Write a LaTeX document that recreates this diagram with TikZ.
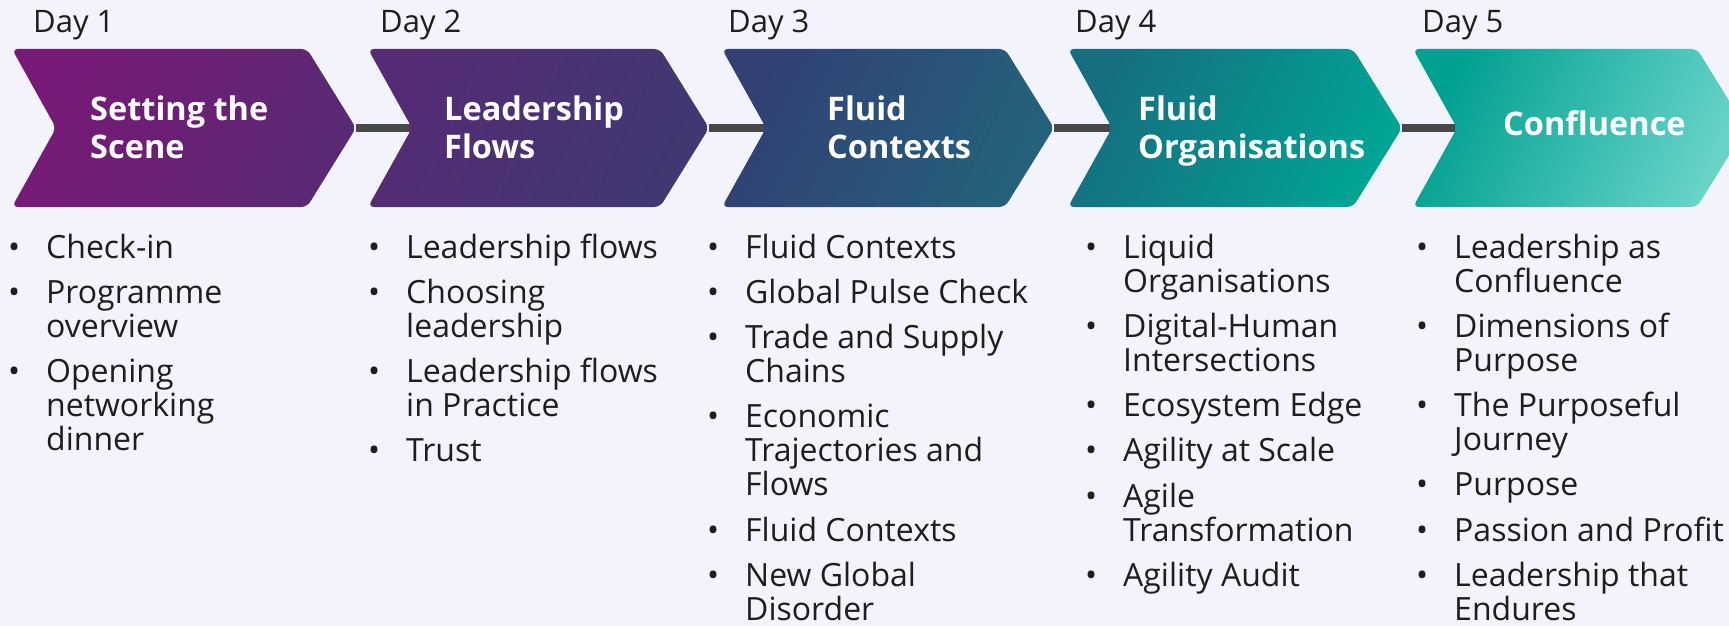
\documentclass[tikz,border=0pt]{standalone}
\usepackage{fontspec}
\setmainfont{Open Sans}
\definecolor{bg}{RGB}{242,243,251}
\definecolor{ink}{RGB}{30,30,30}
\definecolor{conncol}{RGB}{72,72,72}
\definecolor{cAa}{RGB}{120,25,118}
\definecolor{cAb}{RGB}{90,41,115}
\definecolor{cBa}{RGB}{84,44,116}
\definecolor{cBb}{RGB}{64,56,112}
\definecolor{cCa}{RGB}{50,64,115}
\definecolor{cCb}{RGB}{36,98,123}
\definecolor{cDa}{RGB}{22,110,128}
\definecolor{cDb}{RGB}{0,164,149}
\definecolor{cEa}{RGB}{0,160,146}
\definecolor{cEb}{RGB}{104,212,200}
\newcommand\bu{\makebox[38pt][l]{\textbullet}}
\newcommand\liststrut{\setbox\strutbox\hbox{\vrule height 24.6pt depth 9.4pt width 0pt}}
\newlength\itemgap
\setlength\itemgap{11.3pt}
\tikzset{
  conn/.style={draw=conncol, line width=8pt},
  chevbox/.style={rounded corners=6pt},
  daylabel/.style={text=ink, inner sep=0pt, font=\fontsize{31}{34}\selectfont},
  titletext/.style={text=white, inner sep=0pt, font=\bfseries\fontsize{32.5}{38}\selectfont},
  bullets/.style={text=ink, inner sep=0pt, font=\fontsize{32}{34}\selectfont}
}
\begin{document}
\begin{tikzpicture}[x=1pt,y=-1pt]
\useasboundingbox (0,0) rectangle (1729,626);
\fill[bg] (0,0) rectangle (1729,626);
\clip (0,0) rectangle (1729,626);
% anchor coordinates
\foreach \i/\L/\R in {1/12/307, 2/368/660, 3/722/1005, 4/1068/1353, 5/1413/1697}{
  \coordinate (tip\i) at (\R+49,128);
  \coordinate (notch\i) at (\L+44,128);
}
% connectors
\draw[conn] (tip1) -- (notch2);
\draw[conn] (tip2) -- (notch3);
\draw[conn] (tip3) -- (notch4);
\draw[conn] (tip4) -- (notch5);
% chevrons
\foreach \i/\L/\R/\ca/\cb in {1/12/307/cAa/cAb, 2/368/660/cBa/cBb, 3/722/1005/cCa/cCb, 4/1068/1353/cDa/cDb, 5/1413/1697/cEa/cEb}{
  \shade[chevbox, left color=\ca, right color=\cb, shading angle=65]
    (\L,49) -- (\R,49) -- (tip\i) -- (\R,207) -- (\L,207) -- (notch\i) -- cycle;
}
% day labels
\node[daylabel, anchor=base west] (d1) at (33,33) {Day 1};
\node[daylabel, anchor=base west] (d2) at (380,33) {Day 2};
\node[daylabel, anchor=base west] (d3) at (728,33) {Day 3};
\node[daylabel, anchor=base west] (d4) at (1075,33) {Day 4};
\node[daylabel, anchor=base west] (d5) at (1422,33) {Day 5};
% titles
\node[titletext, anchor=base west] (t1) at (90,120) {\begin{tabular}[t]{@{}l@{}}Setting the\\Scene\end{tabular}};
\node[titletext, anchor=base west] (t2) at (444,120) {\begin{tabular}[t]{@{}l@{}}Leadership\\Flows\end{tabular}};
\node[titletext, anchor=base west] (t3) at (827,120) {\begin{tabular}[t]{@{}l@{}}Fluid\\Contexts\end{tabular}};
\node[titletext, anchor=base west] (t4) at (1138,120) {\begin{tabular}[t]{@{}l@{}}Fluid\\Organisations\end{tabular}};
\node[titletext, anchor=base west] (t5) at (1503,135) {Confluence};
% bullet lists
\node[bullets, anchor=base west] (l1) at (46-38,258) {\liststrut\begin{tabular}[t]{@{}l@{}l@{}}
\bu & Check-in\\[\itemgap]
\bu & Programme\\ & overview\\[\itemgap]
\bu & Opening\\ & networking\\ & dinner
\end{tabular}};
\node[bullets, anchor=base west] (l2) at (406-38,258) {\liststrut\begin{tabular}[t]{@{}l@{}l@{}}
\bu & Leadership flows\\[\itemgap]
\bu & Choosing\\ & leadership\\[\itemgap]
\bu & Leadership flows\\ & in Practice\\[\itemgap]
\bu & Trust
\end{tabular}};
\node[bullets, anchor=base west] (l3) at (745-38,258) {\liststrut\begin{tabular}[t]{@{}l@{}l@{}}
\bu & Fluid Contexts\\[\itemgap]
\bu & Global Pulse Check\\[\itemgap]
\bu & Trade and Supply\\ & Chains\\[\itemgap]
\bu & Economic\\ & Trajectories and\\ & Flows\\[\itemgap]
\bu & Fluid Contexts\\[\itemgap]
\bu & New Global\\ & Disorder
\end{tabular}};
\node[bullets, anchor=base west] (l4) at (1123-38,258) {\liststrut\begin{tabular}[t]{@{}l@{}l@{}}
\bu & Liquid\\ & Organisations\\[\itemgap]
\bu & Digital-Human\\ & Intersections\\[\itemgap]
\bu & Ecosystem Edge\\[\itemgap]
\bu & Agility at Scale\\[\itemgap]
\bu & Agile\\ & Transformation\\[\itemgap]
\bu & Agility Audit
\end{tabular}};
\node[bullets, anchor=base west] (l5) at (1454-38,258) {\liststrut\begin{tabular}[t]{@{}l@{}l@{}}
\bu & Leadership as\\ & Confluence\\[\itemgap]
\bu & Dimensions of\\ & Purpose\\[\itemgap]
\bu & The Purposeful\\ & Journey\\[\itemgap]
\bu & Purpose\\[\itemgap]
\bu & Passion and Profit\\[\itemgap]
\bu & Leadership that\\ & Endures
\end{tabular}};
\end{tikzpicture}
\end{document}
